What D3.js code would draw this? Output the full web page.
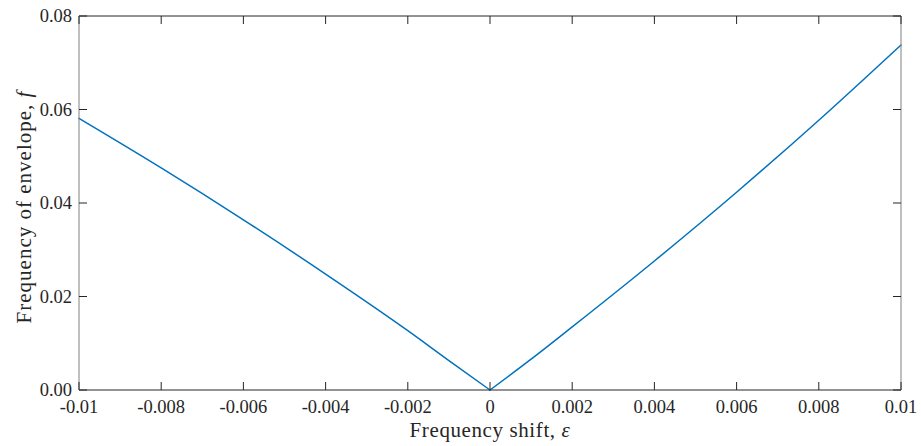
<!DOCTYPE html>
<html>
<head>
<meta charset="utf-8">
<script src="https://cdn.jsdelivr.net/npm/d3@7"></script>
<style>
    body { margin: 0; background: #fff; }
    #chart svg { display: block; }
    text { font-family: "Liberation Serif", "DejaVu Serif", serif; fill: #262626; }
</style>
</head>
<body>
<div id="chart"></div>
<script>
// Frequency shift (x) and envelope frequency (y)
const shift = [-0.01, -0.008, -0.006, -0.004, -0.002, -0.001, 0, 0.001, 0.002, 0.004, 0.006, 0.008, 0.01];
const envelope = [0.0581, 0.0475, 0.0364, 0.0248, 0.0127, 0.0063, 0, 0.0066, 0.0135, 0.0276, 0.0423, 0.0577, 0.0738];

const xTicks = [-0.01, -0.008, -0.006, -0.004, -0.002, 0, 0.002, 0.004, 0.006, 0.008, 0.01];
const xTickLabels = ['-0.01', '-0.008', '-0.006', '-0.004', '-0.002', '0', '0.002', '0.004', '0.006', '0.008', '0.01'];
const yTicks = [0, 0.02, 0.04, 0.06, 0.08];
const yTickLabels = ['0.00', '0.02', '0.04', '0.06', '0.08'];

const width = 921;
const height = 446;
const marginTop = 16;
const marginRight = 20;
const marginBottom = 56;
const marginLeft = 79;
const tickLen = 8;

const svg = d3.select('#chart')
    .append('svg')
    .attr('width', width)
    .attr('height', height)
    .attr('viewBox', [0, 0, width, height]);

const x = d3.scaleLinear()
    .domain([-0.01, 0.01])
    .range([marginLeft, width - marginRight]);

const y = d3.scaleLinear()
    .domain([0, 0.08])
    .range([height - marginBottom, marginTop]);

const x0 = x.range()[0], x1 = x.range()[1];
const y0 = y.range()[0], y1 = y.range()[1];

// the data line: smooth on each branch, sharp V at zero
const points = shift.map((s, i) => [s, envelope[i]]);
const branches = [points.filter(p => p[0] <= 0), points.filter(p => p[0] >= 0)];

const line = d3.line()
    .x(d => x(d[0]))
    .y(d => y(d[1]))
    .curve(d3.curveMonotoneX);

svg.append('g')
    .selectAll('path')
    .data(branches)
    .join('path')
    .attr('fill', 'none')
    .attr('stroke', '#0072BD')
    .attr('stroke-width', 1.5)
    .attr('stroke-linecap', 'round')
    .attr('d', line);

// box
const box = svg.append('g').attr('fill', 'none');
box.append('line').attr('x1', x0).attr('x2', x1).attr('y1', y0).attr('y2', y0)
    .attr('stroke', '#262626');
box.append('line').attr('x1', x0).attr('x2', x1).attr('y1', y1).attr('y2', y1)
    .attr('stroke', '#262626');
box.append('line').attr('x1', x0).attr('x2', x0).attr('y1', y1).attr('y2', y0)
    .attr('stroke', '#808080');
box.append('line').attr('x1', x1).attr('x2', x1).attr('y1', y1).attr('y2', y0)
    .attr('stroke', '#808080');

// inward ticks, all four sides
const ticks = svg.append('g').attr('stroke', '#262626').attr('stroke-width', 1);
xTicks.forEach(t => {
    ticks.append('line').attr('x1', x(t)).attr('x2', x(t)).attr('y1', y0).attr('y2', y0 - tickLen);
    ticks.append('line').attr('x1', x(t)).attr('x2', x(t)).attr('y1', y1).attr('y2', y1 + tickLen);
});
yTicks.forEach(t => {
    ticks.append('line').attr('x1', x0).attr('x2', x0 + tickLen).attr('y1', y(t)).attr('y2', y(t));
    ticks.append('line').attr('x1', x1).attr('x2', x1 - tickLen).attr('y1', y(t)).attr('y2', y(t));
});

// tick labels
svg.append('g')
    .selectAll('text')
    .data(xTicks)
    .join('text')
    .attr('x', d => x(d))
    .attr('y', y0 + 23)
    .attr('text-anchor', 'middle')
    .style('font-size', '18.5px')
    .text((d, i) => xTickLabels[i]);

svg.append('g')
    .selectAll('text')
    .data(yTicks)
    .join('text')
    .attr('x', x0 - 7)
    .attr('y', d => y(d) + 6)
    .attr('text-anchor', 'end')
    .style('font-size', '18.5px')
    .text((d, i) => yTickLabels[i]);

// axis labels
const xLabel = svg.append('text')
    .attr('x', (x0 + x1) / 2)
    .attr('y', 437)
    .attr('text-anchor', 'middle')
    .style('font-size', '21px')
    .style('letter-spacing', '0.6px');
xLabel.append('tspan').text('Frequency shift, ');
xLabel.append('tspan').style('font-style', 'italic').text('ε');

const yLabel = svg.append('text')
    .attr('transform', `translate(31,${(y0 + y1) / 2 + 4}) rotate(-90)`)
    .attr('text-anchor', 'middle')
    .style('font-size', '21px')
    .style('letter-spacing', '1px');
yLabel.append('tspan').text('Frequency of envelope, ');
yLabel.append('tspan').style('font-style', 'italic').text('f');
</script>
</body>
</html>
